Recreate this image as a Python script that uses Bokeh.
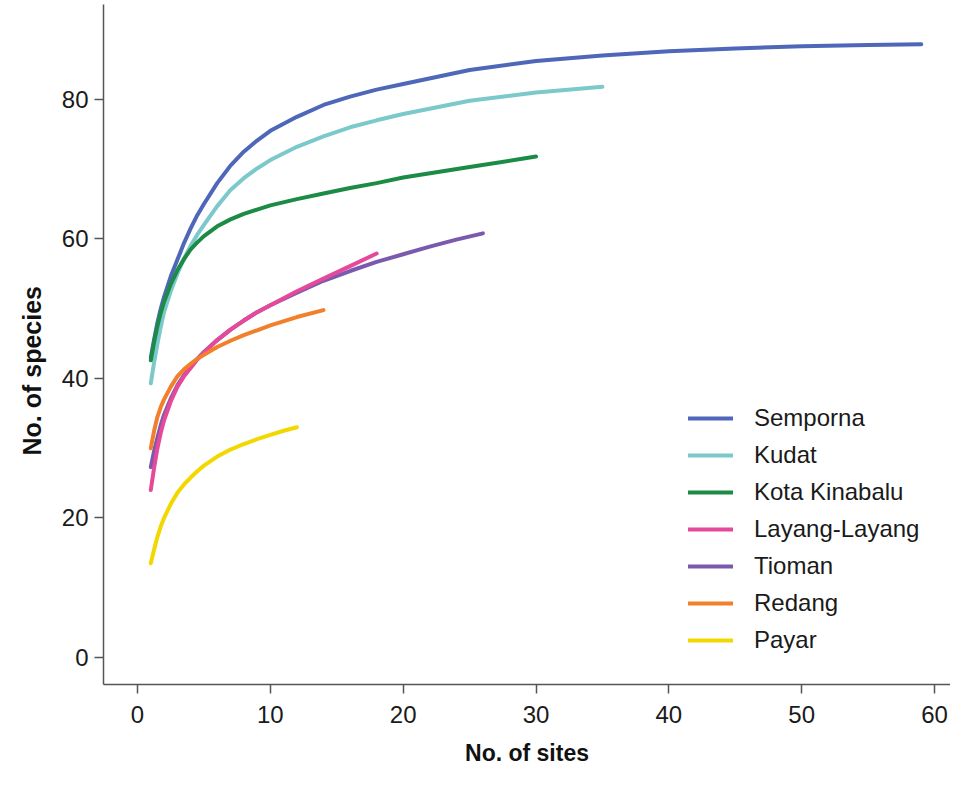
from bokeh.plotting import figure
from bokeh.models import Range1d, Legend, LegendItem, Title, FixedTicker
from bokeh.embed import file_html
from bokeh.resources import INLINE

# ---- data ----
series_names = ["Semporna", "Kudat", "Kota Kinabalu", "Layang-Layang", "Tioman", "Redang", "Payar"]
series_colors = ["#4f67b8", "#7cc9cc", "#1b8b45", "#e6499a", "#7a5aad", "#f27f2b", "#f2d800"]

semporna_sites = [1, 1.25, 1.5, 1.75, 2, 2.5, 3, 3.5, 4, 4.5, 5, 6, 7, 8, 9, 10, 12, 14, 16, 18, 20,
                  25, 30, 35, 40, 45, 50, 55, 59]
semporna_species = [43, 45.6, 48, 50, 51.7, 54.6, 57, 59.4, 61.5, 63.4, 65, 68, 70.5, 72.5, 74.1, 75.5,
                    77.5, 79.2, 80.4, 81.4, 82.2, 84.2, 85.5, 86.3, 86.9, 87.3, 87.6, 87.8, 87.9]

kudat_sites = [1, 1.25, 1.5, 1.75, 2, 2.5, 3, 3.5, 4, 4.5, 5, 6, 7, 8, 9, 10, 12, 14, 16, 18, 20,
               25, 30, 35]
kudat_species = [39.3, 42.3, 45, 47.4, 49.5, 52.5, 55, 57.2, 59, 60.6, 62, 64.7, 67, 68.7, 70.1, 71.3,
                 73.2, 74.7, 76, 77, 77.9, 79.8, 81, 81.8]

kk_sites = [1, 1.25, 1.5, 1.75, 2, 2.5, 3, 3.5, 4, 4.5, 5, 6, 7, 8, 9, 10, 12, 14, 16, 18, 20, 25, 30]
kk_species = [42.6, 45.2, 47.5, 49.4, 51, 53.5, 55.5, 57.1, 58.5, 59.5, 60.4, 61.8, 62.8, 63.6, 64.2,
              64.8, 65.7, 66.5, 67.3, 68, 68.8, 70.3, 71.8]

layang_sites = [1, 1.25, 1.5, 1.75, 2, 2.5, 3, 3.5, 4, 4.5, 5, 6, 7, 8, 9, 10, 12, 14, 16, 18]
layang_species = [24, 27.2, 30, 32.2, 34, 36.7, 38.8, 40.3, 41.5, 42.7, 43.7, 45.5, 47, 48.3, 49.5,
                  50.5, 52.5, 54.3, 56.1, 57.9]

tioman_sites = [1, 1.25, 1.5, 1.75, 2, 2.5, 3, 3.5, 4, 4.5, 5, 6, 7, 8, 9, 10, 12, 14, 16, 18, 20,
                22, 24, 26]
tioman_species = [27.3, 29.6, 31.5, 33.3, 34.8, 37.1, 39, 40.5, 41.7, 42.8, 43.8, 45.5, 47, 48.3, 49.5,
                  50.5, 52.3, 54, 55.4, 56.7, 57.8, 58.9, 59.9, 60.8]

redang_sites = [1, 1.25, 1.5, 1.75, 2, 2.5, 3, 3.5, 4, 4.5, 5, 6, 7, 8, 9, 10, 12, 14]
redang_species = [30, 32.5, 34.5, 35.9, 37, 38.8, 40.3, 41.3, 42.1, 42.8, 43.4, 44.5, 45.4, 46.2, 46.9,
                  47.6, 48.8, 49.8]

payar_sites = [1, 1.25, 1.5, 1.75, 2, 2.5, 3, 3.5, 4, 4.5, 5, 6, 7, 8, 9, 10, 11, 12]
payar_species = [13.5, 15.5, 17.3, 18.8, 20, 22, 23.6, 24.8, 25.8, 26.7, 27.5, 28.8, 29.8, 30.6, 31.3,
                 31.9, 32.5, 33]

x_ticks = [0, 10, 20, 30, 40, 50, 60]
y_ticks = [0, 20, 40, 60, 80]

series = {
    "Semporna": (semporna_sites, semporna_species),
    "Kudat": (kudat_sites, kudat_species),
    "Kota Kinabalu": (kk_sites, kk_species),
    "Layang-Layang": (layang_sites, layang_species),
    "Tioman": (tioman_sites, tioman_species),
    "Redang": (redang_sites, redang_species),
    "Payar": (payar_sites, payar_species),
}
draw_order = ["Semporna", "Kudat", "Kota Kinabalu", "Tioman", "Layang-Layang", "Redang", "Payar"]

# ---- figure ----
p = figure(width=950, height=770, output_backend="svg", toolbar_location=None,
           x_range=Range1d(-2.56, 61.2), y_range=Range1d(-3.87, 93.6),
           min_border_left=103, min_border_right=0, min_border_top=4, min_border_bottom=86)
p.outline_line_color = None
p.xgrid.visible = False
p.ygrid.visible = False
p.background_fill_color = "white"
p.border_fill_color = "white"

renderers = {}
for name in draw_order:
    xs, ys = series[name]
    col = series_colors[series_names.index(name)]
    renderers[name] = p.line(xs, ys, line_color=col, line_width=4, line_cap="round", line_join="round")

legend = Legend(items=[LegendItem(label=n, renderers=[renderers[n]]) for n in series_names],
                location=(585, 29), orientation="vertical",
                label_text_font="Liberation Sans", label_text_font_size="24px",
                label_text_color="#1a1a1a", glyph_width=45, glyph_height=30,
                label_height=30, spacing=7, label_standoff=21, padding=0, margin=0,
                border_line_color=None, background_fill_alpha=0)
p.add_layout(legend, "center")

for ax in (p.xaxis[0], p.yaxis[0]):
    ax.axis_line_color = "#555555"
    ax.axis_line_width = 1.5
    ax.major_tick_line_color = "#555555"
    ax.major_tick_line_width = 1.5
    ax.major_tick_in = 0
    ax.major_tick_out = 9
    ax.minor_tick_line_color = None
    ax.major_label_text_font = "Liberation Sans"
    ax.major_label_text_font_size = "24px"
    ax.major_label_text_color = "#1a1a1a"

p.xaxis.ticker = FixedTicker(ticks=x_ticks)
p.yaxis.ticker = FixedTicker(ticks=y_ticks)
p.xaxis.major_label_standoff = 12
p.yaxis.major_label_standoff = 6

p.xaxis.axis_label = "No. of sites"
p.xaxis.axis_label_text_font = "Liberation Sans"
p.xaxis.axis_label_text_font_style = "bold"
p.xaxis.axis_label_text_font_size = "23px"
p.xaxis.axis_label_text_color = "#111111"
p.xaxis.axis_label_standoff = 14

ytitle = Title(text="No. of species", align="left", offset=229, standoff=26,
               text_font="Liberation Sans", text_font_style="bold", text_font_size="25px",
               text_color="#111111")
p.add_layout(ytitle, "left")

open("out.html", "w").write(file_html(p, INLINE))
